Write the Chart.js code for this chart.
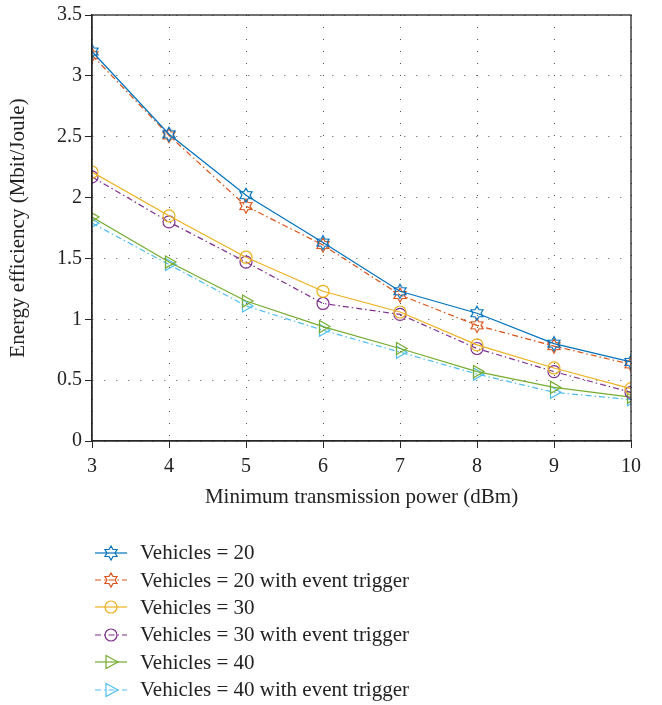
<!DOCTYPE html>
<html>
<head>
<meta charset="utf-8">
<script src="https://cdn.jsdelivr.net/npm/chart.js@4.4.1/dist/chart.umd.min.js"></script>
<style>
  html, body { margin: 0; padding: 0; background: #fff; }
  #wrap { position: relative; width: 662px; height: 705px; }
  #box { position: absolute; left: 0; top: 0; width: 662px; height: 530px; }
  #legend { position: absolute; left: 93px; top: 539px; font-family: "Liberation Serif", serif; font-size: 21px; color: #222; }
  .row { height: 27.4px; display: flex; align-items: center; }
  .row canvas { margin-right: 11px; }
</style>
</head>
<body>
<div id="wrap">
  <div id="box"><canvas id="chart"></canvas></div>
  <div id="legend"></div>
</div>
<script>
const powers = [3, 4, 5, 6, 7, 8, 9, 10];
const veh20 = [3.20, 2.52, 2.02, 1.63, 1.23, 1.05, 0.80, 0.65];
const veh20Event = [3.17, 2.51, 1.93, 1.61, 1.20, 0.95, 0.78, 0.63];
const veh30 = [2.21, 1.85, 1.51, 1.23, 1.06, 0.79, 0.60, 0.43];
const veh30Event = [2.17, 1.80, 1.47, 1.13, 1.04, 0.76, 0.57, 0.40];
const veh40 = [1.84, 1.47, 1.15, 0.94, 0.76, 0.57, 0.44, 0.36];
const veh40Event = [1.79, 1.45, 1.11, 0.91, 0.73, 0.55, 0.40, 0.34];
const seriesNames = ['Vehicles = 20', 'Vehicles = 20 with event trigger', 'Vehicles = 30',
  'Vehicles = 30 with event trigger', 'Vehicles = 40', 'Vehicles = 40 with event trigger'];
const yTicks = [0, 0.5, 1, 1.5, 2, 2.5, 3, 3.5];

const colors = ['#0072BD', '#D95319', '#EDB120', '#7E2F8E', '#77AC30', '#4DBEEE'];
const markers = ['hex', 'hex', 'circle', 'circle', 'tri', 'tri'];
const dashDot = [6, 3, 1.5, 3];

function hexPath(ctx, cx, cy, r) {
  ctx.beginPath();
  for (let i = 0; i < 12; i++) {
    const a = -Math.PI / 2 + i * Math.PI / 6;
    const rad = i % 2 === 0 ? r : r / Math.sqrt(3);
    const px = cx + rad * Math.cos(a), py = cy + rad * Math.sin(a);
    if (i === 0) ctx.moveTo(px, py); else ctx.lineTo(px, py);
  }
  ctx.closePath();
}

function hexagram(color, r) {
  const s = Math.ceil(r * 2 + 4);
  const c = document.createElement('canvas');
  c.width = s; c.height = s;
  const ctx = c.getContext('2d');
  ctx.strokeStyle = color; ctx.lineWidth = 1.2;
  hexPath(ctx, s / 2, s / 2, r);
  ctx.stroke();
  return c;
}

function drawMarker(ctx, kind, cx, cy, color) {
  ctx.save();
  ctx.setLineDash([]);
  ctx.strokeStyle = color; ctx.lineWidth = 1.2;
  if (kind === 'hex') {
    hexPath(ctx, cx, cy, 7);
  } else if (kind === 'circle') {
    ctx.beginPath(); ctx.arc(cx, cy, 6, 0, Math.PI * 2);
  } else {
    ctx.beginPath();
    ctx.moveTo(cx + 7, cy); ctx.lineTo(cx - 5, cy - 6.5); ctx.lineTo(cx - 5, cy + 6.5); ctx.closePath();
  }
  ctx.stroke();
  ctx.restore();
}

const allSeries = [veh20, veh20Event, veh30, veh30Event, veh40, veh40Event];

const datasets = allSeries.map((vals, i) => {
  const ds = {
    label: seriesNames[i],
    data: powers.map((p, k) => ({x: p, y: vals[k]})),
    borderColor: colors[i],
    backgroundColor: 'rgba(0,0,0,0)',
    borderWidth: 1.2,
    borderDash: i % 2 === 1 ? dashDot : [],
    tension: 0,
    pointBorderColor: colors[i],
    pointBorderWidth: 1.2,
    pointBackgroundColor: 'rgba(0,0,0,0)',
    order: i,
  };
  if (markers[i] === 'hex') { ds.pointStyle = hexagram(colors[i], 7); ds.pointRadius = 7; }
  else if (markers[i] === 'circle') { ds.pointStyle = 'circle'; ds.pointRadius = 6; }
  else { ds.pointStyle = 'triangle'; ds.pointRadius = 7; ds.pointRotation = 90; }
  return ds;
});

const frame = {
  id: 'frame',
  afterDraw(chart) {
    const {ctx, chartArea: a} = chart;
    ctx.save();
    ctx.strokeStyle = '#262626'; ctx.lineWidth = 1.3;
    ctx.strokeRect(a.left, a.top, a.right - a.left, a.bottom - a.top);
    ctx.restore();
  }
};

const serif = '"Liberation Serif", serif';

new Chart(document.getElementById('chart'), {
  type: 'line',
  data: { datasets },
  plugins: [frame],
  options: {
    responsive: true,
    maintainAspectRatio: false,
    animation: false,
    layout: { padding: { top: 15, right: 31, left: 0, bottom: 0 } },
    plugins: { legend: { display: false }, tooltip: { enabled: false } },
    scales: {
      x: {
        type: 'linear', min: 3, max: 10,
        afterBuildTicks: s => { s.ticks = powers.map(v => ({value: v})); },
        afterFit: s => { s.height = 89; },
        grid: { color: '#555', lineWidth: 1, tickLength: 7, tickColor: '#262626' },
        border: { color: '#262626', width: 1.3, dash: [1, 11] },
        ticks: { color: '#222', font: { family: serif, size: 20 }, padding: 7, maxRotation: 0 },
        title: { display: true, text: 'Minimum transmission power (dBm)', color: '#222',
          font: { family: serif, size: 21 }, padding: { top: 0, bottom: 20 } }
      },
      y: {
        min: 0, max: 3.5,
        afterBuildTicks: s => { s.ticks = yTicks.map(v => ({value: v})); },
        afterFit: s => { s.width = 92; },
        grid: { color: '#555', lineWidth: 1, tickLength: 7, tickColor: '#262626' },
        border: { color: '#262626', width: 1.3, dash: [1, 11] },
        ticks: { color: '#222', font: { family: serif, size: 20 }, padding: 3,
          callback: v => String(v) },
        title: { display: true, text: 'Energy efficiency (Mbit/Joule)', color: '#222',
          font: { family: serif, size: 21 }, padding: { top: 6, bottom: 0 } }
      }
    }
  }
});

// legend: line sample with marker, then text
const legend = document.getElementById('legend');
seriesNames.forEach((name, i) => {
  const row = document.createElement('div');
  row.className = 'row';
  const c = document.createElement('canvas');
  c.width = 36; c.height = 20;
  const ctx = c.getContext('2d');
  ctx.strokeStyle = colors[i]; ctx.lineWidth = 1.2;
  ctx.setLineDash(i % 2 === 1 ? dashDot : []);
  ctx.beginPath(); ctx.moveTo(2, 10); ctx.lineTo(34, 10); ctx.stroke();
  drawMarker(ctx, markers[i], 18, 10, colors[i]);
  const t = document.createElement('span');
  t.textContent = name;
  row.appendChild(c); row.appendChild(t);
  legend.appendChild(row);
});
</script>
</body>
</html>
